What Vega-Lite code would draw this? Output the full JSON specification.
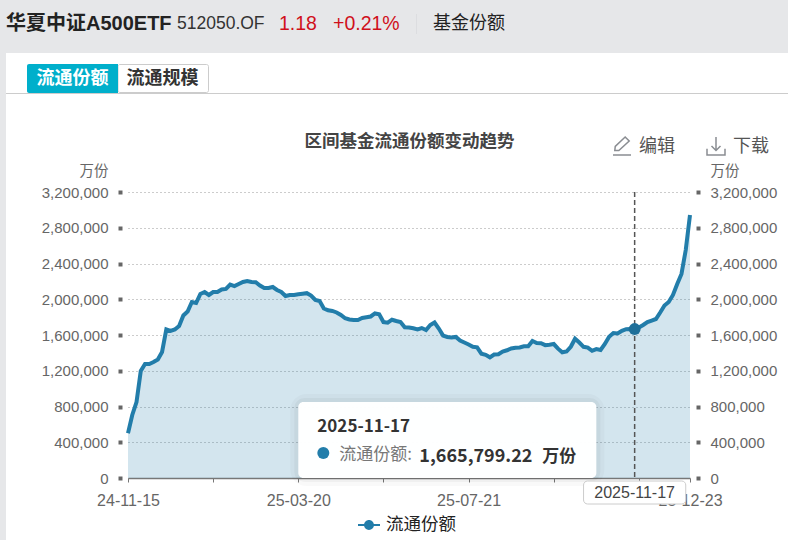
{"$schema":"https://vega.github.io/schema/vega-lite/v6.json","width":562,"height":286,"autosize":{"type":"none"},"padding":{"left":128,"top":192,"right":98,"bottom":62},"background":"#ffffff","config":{"font":"Liberation Sans, Noto Sans CJK SC","view":{"stroke":null}},"data":{"values":[{"k":1}]},"datasets":{"series":[{"date":"24-11-15","value":500000},{"date":"24-11-19","value":705000},{"date":"24-11-21","value":850000},{"date":"24-11-25","value":1197000},{"date":"24-11-27","value":1276000},{"date":"24-11-29","value":1276000},{"date":"24-12-03","value":1298000},{"date":"24-12-05","value":1326000},{"date":"24-12-09","value":1410000},{"date":"24-12-11","value":1662000},{"date":"24-12-13","value":1645000},{"date":"24-12-17","value":1662000},{"date":"24-12-19","value":1701000},{"date":"24-12-23","value":1818000},{"date":"24-12-25","value":1863000},{"date":"24-12-27","value":1969000},{"date":"24-12-31","value":1958000},{"date":"25-01-03","value":2059000},{"date":"25-01-07","value":2081000},{"date":"25-01-09","value":2048000},{"date":"25-01-13","value":2081000},{"date":"25-01-15","value":2081000},{"date":"25-01-17","value":2109000},{"date":"25-01-21","value":2115000},{"date":"25-01-23","value":2165000},{"date":"25-01-27","value":2148000},{"date":"25-02-06","value":2171000},{"date":"25-02-10","value":2193000},{"date":"25-02-12","value":2204000},{"date":"25-02-14","value":2193000},{"date":"25-02-18","value":2190000},{"date":"25-02-20","value":2154000},{"date":"25-02-24","value":2126000},{"date":"25-02-26","value":2126000},{"date":"25-02-28","value":2137000},{"date":"25-03-04","value":2104000},{"date":"25-03-06","value":2081000},{"date":"25-03-11","value":2036000},{"date":"25-03-13","value":2048000},{"date":"25-03-17","value":2048000},{"date":"25-03-20","value":2055000},{"date":"25-03-24","value":2062000},{"date":"25-03-26","value":2068000},{"date":"25-03-28","value":2042000},{"date":"25-04-01","value":1992000},{"date":"25-04-03","value":1980000},{"date":"25-04-08","value":1897000},{"date":"25-04-10","value":1876000},{"date":"25-04-14","value":1869000},{"date":"25-04-16","value":1852000},{"date":"25-04-18","value":1824000},{"date":"25-04-22","value":1787000},{"date":"25-04-24","value":1773000},{"date":"25-04-28","value":1768000},{"date":"25-04-30","value":1768000},{"date":"25-05-07","value":1790000},{"date":"25-05-09","value":1798000},{"date":"25-05-13","value":1807000},{"date":"25-05-15","value":1841000},{"date":"25-05-19","value":1832000},{"date":"25-05-21","value":1745000},{"date":"25-05-23","value":1738000},{"date":"25-05-27","value":1771000},{"date":"25-05-29","value":1757000},{"date":"25-06-03","value":1745000},{"date":"25-06-05","value":1686000},{"date":"25-06-09","value":1684000},{"date":"25-06-11","value":1675000},{"date":"25-06-13","value":1662000},{"date":"25-06-17","value":1678000},{"date":"25-06-19","value":1656000},{"date":"25-06-23","value":1712000},{"date":"25-06-25","value":1740000},{"date":"25-06-27","value":1673000},{"date":"25-07-01","value":1594000},{"date":"25-07-03","value":1578000},{"date":"25-07-07","value":1572000},{"date":"25-07-09","value":1578000},{"date":"25-07-11","value":1538000},{"date":"25-07-16","value":1516000},{"date":"25-07-21","value":1494000},{"date":"25-07-23","value":1468000},{"date":"25-07-25","value":1462000},{"date":"25-07-29","value":1391000},{"date":"25-07-31","value":1378000},{"date":"25-08-04","value":1350000},{"date":"25-08-06","value":1382000},{"date":"25-08-08","value":1385000},{"date":"25-08-12","value":1415000},{"date":"25-08-14","value":1429000},{"date":"25-08-18","value":1449000},{"date":"25-08-20","value":1457000},{"date":"25-08-22","value":1460000},{"date":"25-08-26","value":1474000},{"date":"25-08-28","value":1474000},{"date":"25-09-01","value":1533000},{"date":"25-09-03","value":1511000},{"date":"25-09-05","value":1508000},{"date":"25-09-09","value":1486000},{"date":"25-09-11","value":1491000},{"date":"25-09-15","value":1499000},{"date":"25-09-17","value":1447000},{"date":"25-09-19","value":1406000},{"date":"25-09-23","value":1415000},{"date":"25-09-25","value":1468000},{"date":"25-09-29","value":1558000},{"date":"25-10-09","value":1516000},{"date":"25-10-13","value":1468000},{"date":"25-10-15","value":1459000},{"date":"25-10-17","value":1423000},{"date":"25-10-21","value":1443000},{"date":"25-10-23","value":1432000},{"date":"25-10-27","value":1499000},{"date":"25-10-29","value":1581000},{"date":"25-10-31","value":1622000},{"date":"25-11-04","value":1617000},{"date":"25-11-06","value":1647000},{"date":"25-11-10","value":1665000},{"date":"25-11-12","value":1667000},{"date":"25-11-17","value":1665799.22},{"date":"25-11-19","value":1684000},{"date":"25-11-21","value":1712000},{"date":"25-11-25","value":1745000},{"date":"25-11-27","value":1762000},{"date":"25-12-01","value":1779000},{"date":"25-12-03","value":1852000},{"date":"25-12-05","value":1930000},{"date":"25-12-09","value":1969000},{"date":"25-12-11","value":2048000},{"date":"25-12-15","value":2171000},{"date":"25-12-17","value":2283000},{"date":"25-12-19","value":2551000},{"date":"25-12-23","value":2943000}]},"resolve":{"axis":{"y":"independent"}},"layer":[
{"mark":{"type":"rect","color":"#e6e7e9"},"encoding":{"x":{"value":-128},"x2":{"value":660},"y":{"value":-192},"y2":{"value":-139}}},
{"mark":{"type":"rect","color":"#e6e7e9"},"encoding":{"x":{"value":-128},"x2":{"value":-122},"y":{"value":-192},"y2":{"value":348}}},
{"mark":{"type":"rule","color":"#cccccc","strokeWidth":1},"encoding":{"x":{"value":-122},"x2":{"value":660},"y":{"value":-98.5}}},
{"mark":{"type":"rect","color":"#ffffff","stroke":"#cccccc","strokeWidth":1,"cornerRadius":2},"encoding":{"x":{"value":-10},"x2":{"value":80.5},"y":{"value":-127.5},"y2":{"value":-99.5}}},
{"mark":{"type":"rect","color":"#00afcb","cornerRadiusTopLeft":2,"cornerRadiusBottomLeft":2},"encoding":{"x":{"value":-101},"x2":{"value":-10},"y":{"value":-128},"y2":{"value":-99}}},
{"mark":{"type":"text","text":"流通份额","font":"Noto Sans CJK SC","fontWeight":"bold","fontSize":18,"fill":"#ffffff","align":"center","baseline":"middle"},"encoding":{"x":{"value":-55.5},"y":{"value":-113.5}}},
{"mark":{"type":"text","text":"流通规模","font":"Noto Sans CJK SC","fontWeight":"bold","fontSize":18,"fill":"#333333","align":"center","baseline":"middle"},"encoding":{"x":{"value":34.5},"y":{"value":-113.5}}},
{"mark":{"type":"text","text":"华夏中证A500ETF","font":"Liberation Sans, Noto Sans CJK SC","fontWeight":"bold","fontSize":20,"fill":"#222222","align":"left","baseline":"middle"},"encoding":{"x":{"value":-122},"y":{"value":-168}}},
{"mark":{"type":"text","text":"512050.OF","fontSize":17.5,"fill":"#333333","align":"left","baseline":"middle"},"encoding":{"x":{"value":49},"y":{"value":-168}}},
{"mark":{"type":"text","text":"1.18","fontSize":19.5,"fill":"#d0101b","align":"left","baseline":"middle"},"encoding":{"x":{"value":151},"y":{"value":-168}}},
{"mark":{"type":"text","text":"+0.21%","fontSize":19.5,"fill":"#d0101b","align":"left","baseline":"middle"},"encoding":{"x":{"value":205},"y":{"value":-168}}},
{"mark":{"type":"rule","color":"#dcdde0","strokeWidth":1},"encoding":{"x":{"value":288.5},"y":{"value":-178},"y2":{"value":-158}}},
{"mark":{"type":"text","text":"基金份额","font":"Noto Sans CJK SC","fontSize":18,"fill":"#222222","align":"left","baseline":"middle"},"encoding":{"x":{"value":305},"y":{"value":-168}}},
{"mark":{"type":"text","text":"区间基金流通份额变动趋势","font":"Noto Sans CJK SC","fontWeight":"bold","fontSize":17.5,"fill":"#444444","align":"center","baseline":"middle"},"encoding":{"x":{"value":281.5},"y":{"value":-50}}},
{"mark":{"type":"point","shape":"M-0.8,0.5 L-0.75,0.05 L0.35,-1 L0.8,-0.55 L-0.35,0.5 Z M-1,1 L1,1","filled":false,"stroke":"#8a8d92","strokeWidth":1.5,"size":324,"opacity":1},"encoding":{"x":{"value":494},"y":{"value":-46}}},
{"mark":{"type":"text","text":"编辑","font":"Noto Sans CJK SC","fontSize":18,"fill":"#555555","align":"left","baseline":"middle"},"encoding":{"x":{"value":511},"y":{"value":-45}}},
{"mark":{"type":"point","shape":"M-1,0.3 L-1,1 L1,1 L1,0.3 M0,-1 L0,0.5 M-0.5,0 L0,0.5 L0.5,0","filled":false,"stroke":"#8a8d92","strokeWidth":1.5,"size":324,"opacity":1},"encoding":{"x":{"value":588},"y":{"value":-46}}},
{"mark":{"type":"text","text":"下载","font":"Noto Sans CJK SC","fontSize":18,"fill":"#555555","align":"left","baseline":"middle"},"encoding":{"x":{"value":605},"y":{"value":-45}}},
{"data":{"name":"series"},"mark":{"type":"area","color":"#227daa","opacity":0.2},"encoding":{"x":{"field":"date","type":"ordinal","scale":{"type":"point","padding":0},"axis":{"title":null,"values":["24-11-15","25-01-13","25-03-20","25-05-21","25-07-21","25-09-15","25-11-19","25-12-23"],"labelExpr":"indexof(['24-11-15','25-03-20','25-07-21','25-12-23'],datum.value)>=0?datum.value:''","labelAngle":0,"labelOverlap":false,"labelBound":false,"labelFlush":false,"labelFontSize":16,"labelColor":"#666666","labelPadding":10,"tickSize":4,"tickColor":"#777777","domainColor":"#777777","domainWidth":1.5,"grid":false}},"y":{"field":"value","type":"quantitative","scale":{"domain":[0,3200000],"nice":false},"axis":{"title":"万份","titleAngle":0,"titleX":-14,"titleY":-21,"titleAlign":"right","titleBaseline":"middle","titleFontSize":14.5,"titleFontWeight":"normal","titleColor":"#666666","titleFont":"Noto Sans CJK SC","values":[0,400000,800000,1200000,1600000,2000000,2400000,2800000,3200000],"format":",d","offset":6,"domain":false,"tickSize":4,"tickWidth":4,"tickColor":"#666666","labelPadding":10,"labelFontSize":15,"labelColor":"#666666","grid":true,"gridColor":"#999999","gridDash":[1,3],"gridWidth":1}}}},
{"data":{"name":"series"},"mark":{"type":"line","strokeWidth":4},"encoding":{"x":{"field":"date","type":"ordinal","scale":{"type":"point","padding":0}},"y":{"field":"value","type":"quantitative","scale":{"domain":[0,3200000],"nice":false},"axis":{"title":"万份","orient":"right","titleAngle":0,"titleX":14,"titleY":-21,"titleAlign":"left","titleBaseline":"middle","titleFontSize":14.5,"titleFontWeight":"normal","titleColor":"#666666","titleFont":"Noto Sans CJK SC","values":[0,400000,800000,1200000,1600000,2000000,2400000,2800000,3200000],"format":",d","offset":6,"domain":false,"tickSize":4,"tickWidth":4,"tickColor":"#666666","labelPadding":10,"labelFontSize":15,"labelColor":"#666666","grid":false}},"color":{"datum":"流通份额","scale":{"domain":["流通份额"],"range":["#227daa"]},"legend":{"title":null,"orient":"none","legendX":230,"legendY":322,"symbolType":"M-1,-0.09 H1 V0.09 H-1 Z M0.45,0 A0.45,0.45 0 1 1 -0.45,0 A0.45,0.45 0 1 1 0.45,0 Z","symbolSize":484,"symbolFillColor":"#227daa","symbolStrokeWidth":0,"labelFontSize":17.5,"labelColor":"#222222","labelFont":"Noto Sans CJK SC","labelOffset":6}}}},
{"mark":{"type":"rule","color":"#555555","strokeWidth":1.5,"strokeDash":[5,3]},"encoding":{"x":{"datum":"25-11-17","type":"ordinal","scale":{"type":"point","padding":0},"title":null},"y":{"datum":3200000,"type":"quantitative","scale":{"domain":[0,3200000],"nice":false},"axis":null},"y2":{"datum":0}}},
{"mark":{"type":"point","filled":true,"color":"#1f6f99","size":144,"opacity":1},"encoding":{"x":{"datum":"25-11-17","type":"ordinal","scale":{"type":"point","padding":0},"title":null},"y":{"datum":1665799.22,"type":"quantitative","scale":{"domain":[0,3200000],"nice":false},"axis":null}}},
{"mark":{"type":"rect","fill":null,"stroke":"#000000","strokeWidth":16,"strokeOpacity":0.025,"cornerRadius":8},"encoding":{"x":{"datum":"25-03-20","type":"ordinal","scale":{"type":"point","padding":0},"title":null},"x2":{"datum":"25-10-21"},"y":{"datum":850000,"type":"quantitative","scale":{"domain":[0,3200000],"nice":false},"axis":null},"y2":{"datum":0}}},
{"mark":{"type":"rect","fill":null,"stroke":"#000000","strokeWidth":8,"strokeOpacity":0.035,"cornerRadius":6},"encoding":{"x":{"datum":"25-03-20","type":"ordinal","scale":{"type":"point","padding":0},"title":null},"x2":{"datum":"25-10-21"},"y":{"datum":850000,"type":"quantitative","scale":{"domain":[0,3200000],"nice":false},"axis":null},"y2":{"datum":0}}},
{"mark":{"type":"rect","color":"#ffffff","fillOpacity":0.98,"cornerRadius":5},"encoding":{"x":{"datum":"25-03-20","type":"ordinal","scale":{"type":"point","padding":0},"title":null},"x2":{"datum":"25-10-21"},"y":{"datum":850000,"type":"quantitative","scale":{"domain":[0,3200000],"nice":false},"axis":null},"y2":{"datum":0}}},
{"mark":{"type":"text","text":"2025-11-17","font":"Noto Sans CJK SC","fontWeight":"bold","fontSize":17,"fill":"#333333","align":"left","baseline":"middle","dx":19},"encoding":{"x":{"datum":"25-03-20","type":"ordinal","scale":{"type":"point","padding":0},"title":null},"y":{"datum":570000,"type":"quantitative","scale":{"domain":[0,3200000],"nice":false},"axis":null}}},
{"mark":{"type":"point","filled":true,"color":"#227daa","size":144,"opacity":1,"xOffset":25},"encoding":{"x":{"datum":"25-03-20","type":"ordinal","scale":{"type":"point","padding":0},"title":null},"y":{"datum":280000,"type":"quantitative","scale":{"domain":[0,3200000],"nice":false},"axis":null}}},
{"mark":{"type":"text","text":"流通份额:","font":"Noto Sans CJK SC","fontSize":17,"fill":"#777777","align":"left","baseline":"middle","dx":41},"encoding":{"x":{"datum":"25-03-20","type":"ordinal","scale":{"type":"point","padding":0},"title":null},"y":{"datum":255000,"type":"quantitative","scale":{"domain":[0,3200000],"nice":false},"axis":null}}},
{"mark":{"type":"text","text":"1,665,799.22","font":"Noto Sans CJK SC","fontWeight":"bold","fontSize":18,"fill":"#333333","align":"left","baseline":"middle","dx":121},"encoding":{"x":{"datum":"25-03-20","type":"ordinal","scale":{"type":"point","padding":0},"title":null},"y":{"datum":240000,"type":"quantitative","scale":{"domain":[0,3200000],"nice":false},"axis":null}}},
{"mark":{"type":"text","text":"万份","font":"Noto Sans CJK SC","fontWeight":"bold","fontSize":17,"fill":"#333333","align":"left","baseline":"middle","dx":244},"encoding":{"x":{"datum":"25-03-20","type":"ordinal","scale":{"type":"point","padding":0},"title":null},"y":{"datum":240000,"type":"quantitative","scale":{"domain":[0,3200000],"nice":false},"axis":null}}},
{"mark":{"type":"rect","color":"#ffffff","stroke":"#cccccc","strokeWidth":1,"cornerRadius":4},"encoding":{"x":{"datum":"25-10-13","type":"ordinal","scale":{"type":"point","padding":0},"title":null},"x2":{"datum":"25-12-19"},"y":{"value":289},"y2":{"value":312}}},
{"mark":{"type":"text","text":"2025-11-17","fontSize":16,"fill":"#444444","align":"center","baseline":"middle"},"encoding":{"x":{"datum":"25-11-17","type":"ordinal","scale":{"type":"point","padding":0},"title":null},"y":{"value":301}}}
]}
